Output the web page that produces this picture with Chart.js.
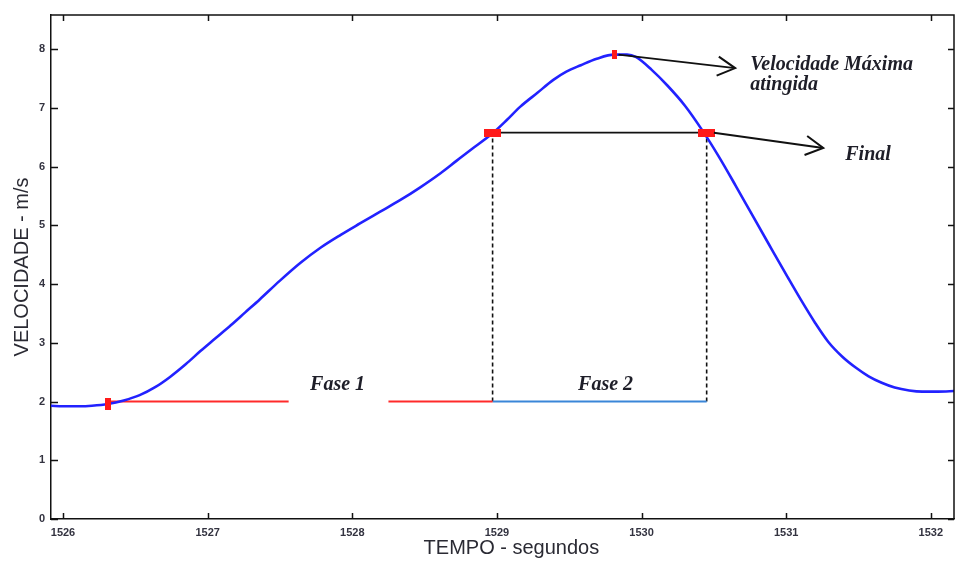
<!DOCTYPE html>
<html>
<head>
<meta charset="utf-8">
<script src="https://cdn.jsdelivr.net/npm/chart.js@4.4.1/dist/chart.umd.min.js"></script>
<style>
  html, body { margin: 0; padding: 0; background: #ffffff; overflow: hidden; }
  #wrap { width: 955px; height: 563px; }
  canvas { display: block; }
</style>
</head>
<body>
<div id="wrap"><canvas id="c" width="955" height="563"></canvas></div>
<script>
// ---- data ----
const timeS = [1525.917, 1526.00, 1526.12, 1526.20, 1526.31, 1526.42, 1526.53, 1526.64, 1526.74, 1526.85, 1526.95,
  1527.05, 1527.16, 1527.26, 1527.36, 1527.50, 1527.64, 1527.78, 1527.92, 1528.05, 1528.19, 1528.33, 1528.47,
  1528.61, 1528.72, 1528.82, 1528.97, 1529.07, 1529.16, 1529.28, 1529.39, 1529.48, 1529.58, 1529.69, 1529.81,
  1529.90, 1529.96, 1530.07, 1530.18, 1530.30, 1530.42, 1530.53, 1530.65, 1530.76, 1530.88, 1531.01, 1531.10,
  1531.20, 1531.29, 1531.39, 1531.48, 1531.57, 1531.66, 1531.75, 1531.85, 1531.94, 1532.05, 1532.17];
const velocity = [1.93, 1.92, 1.92, 1.93, 1.96, 2.02, 2.11, 2.25, 2.42, 2.64, 2.86,
  3.07, 3.30, 3.52, 3.74, 4.06, 4.36, 4.62, 4.84, 5.03, 5.23, 5.43, 5.65,
  5.89, 6.10, 6.29, 6.57, 6.80, 7.02, 7.26, 7.48, 7.62, 7.73, 7.84, 7.91,
  7.91, 7.87, 7.65, 7.38, 7.04, 6.62, 6.19, 5.68, 5.20, 4.68, 4.12, 3.74,
  3.34, 3.02, 2.76, 2.58, 2.43, 2.32, 2.24, 2.19, 2.17, 2.17, 2.18];
const xTickValues = [1526, 1527, 1528, 1529, 1530, 1531, 1532];
const yTickValues = [0, 1, 2, 3, 4, 5, 6, 7, 8];

const fase1Start = [1526.31, 1.96];       // start point of phase 1
const fase1Line1 = [1526.31, 1527.56];    // red line, first piece (time)
const fase1Line2 = [1528.25, 1528.97];    // red line, second piece (time)
const fase2Line = [1528.97, 1530.45];     // blue line (time)
const baseLevel = 2;
const finalLevel = 6.58;
const peakPoint = [1529.81, 7.91];
const finalPoints = [[1528.97, 6.58], [1530.45, 6.58]];
const labels = ["Velocidade Máxima", "atingida", "Final", "Fase 1", "Fase 2"];
const axisTitles = ["TEMPO - segundos", "VELOCIDADE - m/s"];

// ---- helpers ----
function rectMarker(w, h, color) {
  const cv = document.createElement('canvas');
  cv.width = w; cv.height = h;
  const g = cv.getContext('2d');
  g.fillStyle = color; g.fillRect(0, 0, w, h);
  return cv;
}
const seg = (xs, y) => xs.map(x => ({ x: x, y: y }));
const curveData = timeS.map((t, i) => ({ x: t, y: velocity[i] }));

// annotation placement (in data units)
const annot = {
  arrow1: { from: [1529.84, 7.91], to: [1530.647, 7.68] },
  arrow2: { from: [1530.50, 6.58], to: [1531.256, 6.32] },
  text: [
    { s: labels[0], x: 1530.751, y: 7.65 },
    { s: labels[1], x: 1530.751, y: 7.31 },
    { s: labels[2], x: 1531.408, y: 6.12 },
    { s: labels[3], x: 1527.708, y: 2.20 },
    { s: labels[4], x: 1529.561, y: 2.20 }
  ],
  xTitleAt: 1529.10
};

const overlayPlugin = {
  id: 'overlay',
  afterDatasetsDraw(chart) {
    const ctx = chart.ctx, xs = chart.scales.x, ys = chart.scales.y;
    const a = chart.chartArea;
    ctx.save();
    // frame top/right
    ctx.strokeStyle = '#111'; ctx.lineWidth = 1.5;
    ctx.beginPath();
    ctx.moveTo(a.left, a.top); ctx.lineTo(a.right, a.top); ctx.lineTo(a.right, a.bottom);
    ctx.stroke();
    // inner tick marks
    ctx.beginPath();
    xs.ticks.forEach(t => {
      const px = Math.round(xs.getPixelForValue(t.value)) + 0.5;
      ctx.moveTo(px, a.bottom); ctx.lineTo(px, a.bottom - 6);
      ctx.moveTo(px, a.top); ctx.lineTo(px, a.top + 6);
    });
    ys.ticks.forEach(t => {
      const py = Math.round(ys.getPixelForValue(t.value)) + 0.5;
      ctx.moveTo(a.left, py); ctx.lineTo(a.left + 7, py);
      ctx.moveTo(a.right, py); ctx.lineTo(a.right - 6, py);
    });
    ctx.stroke();
    // arrows
    function arrow(from, to) {
      const x1 = xs.getPixelForValue(from[0]), y1 = ys.getPixelForValue(from[1]);
      const x2 = xs.getPixelForValue(to[0]), y2 = ys.getPixelForValue(to[1]);
      ctx.strokeStyle = '#111'; ctx.lineWidth = 2;
      ctx.beginPath(); ctx.moveTo(x1, y1); ctx.lineTo(x2, y2); ctx.stroke();
      const ang = Math.atan2(y2 - y1, x2 - x1), L = 20, h = 0.5;
      ctx.beginPath();
      ctx.moveTo(x2 - L * Math.cos(ang - h), y2 - L * Math.sin(ang - h));
      ctx.lineTo(x2, y2);
      ctx.lineTo(x2 - L * Math.cos(ang + h), y2 - L * Math.sin(ang + h));
      ctx.stroke();
    }
    arrow(annot.arrow1.from, annot.arrow1.to);
    arrow(annot.arrow2.from, annot.arrow2.to);
    // annotation texts
    ctx.fillStyle = '#1e1e28';
    ctx.font = 'italic bold 20px "Liberation Serif", "DejaVu Serif", serif';
    ctx.textAlign = 'left'; ctx.textBaseline = 'alphabetic';
    annot.text.forEach(t => {
      ctx.fillText(t.s, xs.getPixelForValue(t.x), ys.getPixelForValue(t.y));
    });
    // x axis title
    ctx.fillStyle = '#2a2a33';
    ctx.font = '20px "Liberation Sans", Arial, sans-serif';
    ctx.textAlign = 'center'; ctx.textBaseline = 'middle';
    ctx.fillText(axisTitles[0], xs.getPixelForValue(annot.xTitleAt), a.bottom + 29);
    ctx.restore();
  }
};

new Chart(document.getElementById('c'), {
  type: 'scatter',
  data: {
    datasets: [
      { order: 0, data: [{ x: fase1Start[0], y: fase1Start[1] }], pointStyle: rectMarker(6, 12, '#ff1a1a'), pointRadius: 6 },
      { order: 0, data: [{ x: peakPoint[0], y: peakPoint[1] }], pointStyle: rectMarker(5, 9, '#ff1a1a'), pointRadius: 5 },
      { order: 0, data: finalPoints.map(p => ({ x: p[0], y: p[1] })), pointStyle: rectMarker(17, 8, '#ff1a1a'), pointRadius: 8 },
      { order: 1, data: curveData, showLine: true, borderColor: '#2222ff', borderWidth: 2.6, pointRadius: 0, cubicInterpolationMode: 'monotone' },
      { order: 2, data: seg(fase2Line, finalLevel), showLine: true, borderColor: '#111', borderWidth: 1.8, pointRadius: 0 },
      { order: 2, data: [{ x: fase2Line[0], y: baseLevel }, { x: fase2Line[0], y: finalLevel }], showLine: true, borderColor: '#111', borderWidth: 1.6, borderDash: [4, 3], pointRadius: 0 },
      { order: 2, data: [{ x: fase2Line[1], y: baseLevel }, { x: fase2Line[1], y: finalLevel }], showLine: true, borderColor: '#111', borderWidth: 1.6, borderDash: [4, 3], pointRadius: 0 },
      { order: 1, data: seg(fase1Line1, baseLevel), showLine: true, borderColor: '#ff2a2a', borderWidth: 2, pointRadius: 0 },
      { order: 1, data: seg(fase1Line2, baseLevel), showLine: true, borderColor: '#ff2a2a', borderWidth: 2, pointRadius: 0 },
      { order: 1, data: seg(fase2Line, baseLevel), showLine: true, borderColor: '#3a86d8', borderWidth: 2, pointRadius: 0 }
    ]
  },
  options: {
    responsive: false,
    animation: false,
    devicePixelRatio: 1,
    layout: { autoPadding: false, padding: { top: 15, right: 1, left: 0, bottom: 0 } },
    plugins: { legend: { display: false }, tooltip: { enabled: false } },
    scales: {
      x: {
        type: 'linear', min: 1525.917, max: 1532.16,
        afterBuildTicks: s => { s.ticks = xTickValues.map(v => ({ value: v })); },
        afterFit: s => { s.height = 44; s.paddingLeft = 0; s.paddingRight = 0; },
        grid: { display: false, drawTicks: false },
        border: { display: true, color: '#111', width: 1.5 },
        ticks: { padding: 7, color: '#333340', font: { family: '"Liberation Sans", Arial, sans-serif', size: 11, weight: 'bold' }, callback: v => String(v), maxRotation: 0 },
        title: { display: false, text: axisTitles[0] }
      },
      y: {
        type: 'linear', min: 0, max: 8.585,
        afterBuildTicks: s => { s.ticks = yTickValues.map(v => ({ value: v })); },
        afterFit: s => { s.width = 51; s.paddingTop = 0; s.paddingBottom = 0; },
        grid: { display: false, drawTicks: false },
        border: { display: true, color: '#111', width: 1.5 },
        ticks: { padding: 6, color: '#333340', font: { family: '"Liberation Sans", Arial, sans-serif', size: 11, weight: 'bold' }, callback: v => String(v) },
        title: { display: true, text: axisTitles[1], color: '#2a2a33', padding: { top: 10, bottom: 0 }, font: { family: '"Liberation Sans", Arial, sans-serif', size: 20 } }
      }
    }
  },
  plugins: [overlayPlugin]
});
</script>
</body>
</html>
